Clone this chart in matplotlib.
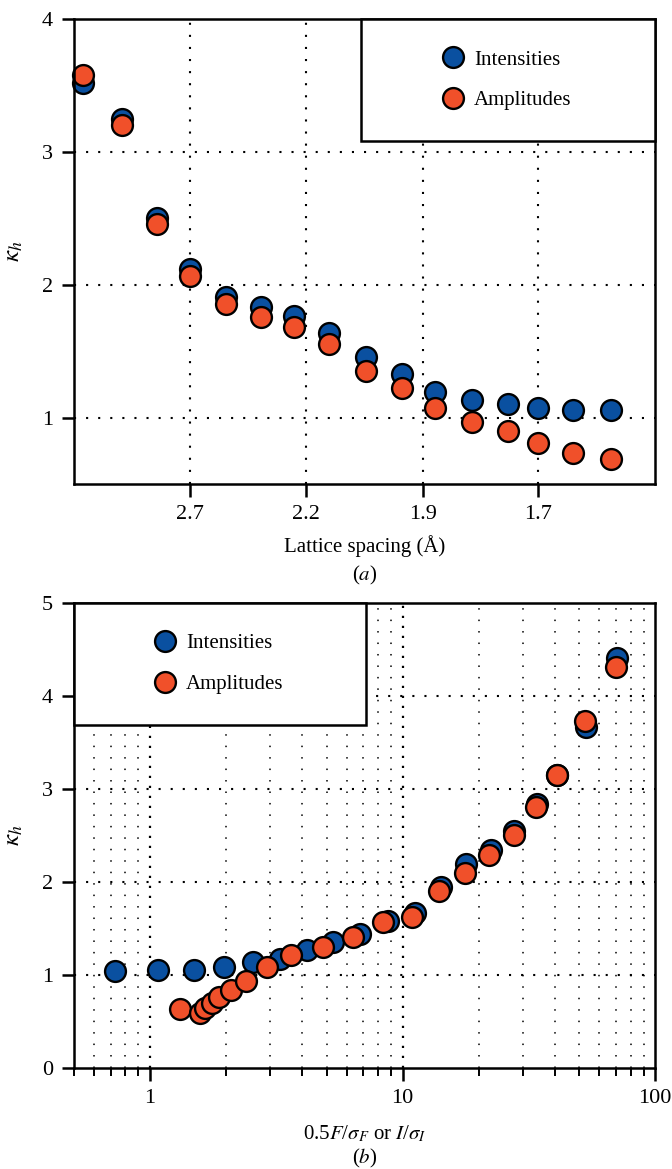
import numpy as np
import matplotlib
matplotlib.use('Agg')
import matplotlib.pyplot as plt
from matplotlib.patches import Rectangle
from matplotlib.lines import Line2D
from matplotlib.ticker import LogLocator, NullFormatter, FixedLocator

plt.rcParams['font.family'] = ['Liberation Serif', 'DejaVu Serif']
plt.rcParams['mathtext.fontset'] = 'stix'
plt.rcParams['font.size'] = 15

# (a) kappa_h vs lattice spacing (A)
spacing = [3.70, 3.22, 2.92, 2.70, 2.51, 2.36, 2.24, 2.13, 2.03, 1.945,
           1.876, 1.806, 1.746, 1.70, 1.651, 1.602]
kappa_int_a = [3.52, 3.25, 2.50, 2.12, 1.91, 1.83, 1.765, 1.64, 1.455, 1.33,
               1.19, 1.135, 1.105, 1.07, 1.06, 1.055]
kappa_amp_a = [3.58, 3.20, 2.455, 2.065, 1.855, 1.76, 1.68, 1.555, 1.35, 1.22,
               1.07, 0.965, 0.895, 0.805, 0.735, 0.69]
spacing_ticks = [2.7, 2.2, 1.9, 1.7]

# (b) kappa_h vs signal-to-noise
snr_int = [0.727, 1.076, 1.49, 1.96, 2.55, 3.28, 4.17, 5.29, 6.77, 8.73, 11.2,
           14.2, 17.9, 22.4, 27.7, 34.2, 41.0, 53.3, 70.8]
kappa_int_b = [1.045, 1.055, 1.055, 1.09, 1.14, 1.17, 1.27, 1.35, 1.44, 1.58,
               1.67, 1.95, 2.19, 2.34, 2.55, 2.84, 3.15, 3.67, 4.41]
snr_amp = [1.31, 1.576, 1.65, 1.76, 1.875, 2.09, 2.40, 2.9, 3.63, 4.83, 6.35,
           8.35, 10.85, 14.0, 17.6, 22.0, 27.5, 33.8, 41.0, 52.7, 70.2]
kappa_amp_b = [0.63, 0.59, 0.645, 0.70, 0.76, 0.84, 0.935, 1.09, 1.22, 1.30,
               1.41, 1.57, 1.62, 1.90, 2.10, 2.29, 2.50, 2.81, 3.15, 3.73, 4.31]

blue = '#0a50a0'
orange = '#f0502a'
mk = dict(marker='o', ms=15, mec='black', mew=1.7, ls='none')

fig = plt.figure(figsize=(6.72, 11.69), dpi=100)
ax1 = fig.add_axes([0.110, 0.586, 0.865, 0.3977])
ax2 = fig.add_axes([0.110, 0.0864, 0.865, 0.3978])

grid_kw = dict(color='black', lw=1.5, ls=(0, (1, 4.8)), zorder=1)


def style(ax):
    for s in ax.spines.values():
        s.set_linewidth(1.8)
        s.set_zorder(6)
    ax.tick_params(which='major', direction='out', length=9, width=1.8, pad=6,
                   labelsize=16)
    ax.tick_params(which='minor', direction='out', length=6, width=1.4)


def legend_box(ax, x0, y0, w, h):
    ax.add_patch(Rectangle((x0, y0), w, h, transform=ax.transAxes, fc='white',
                           ec='black', lw=1.8, zorder=7, clip_on=False))
    handles = [Line2D([], [], color=blue, **mk), Line2D([], [], color=orange, **mk)]
    leg = ax.legend(handles, ['Intensities', 'Amplitudes'], frameon=False,
                    loc='center', bbox_to_anchor=(x0, y0, w, h), fontsize=15,
                    handlelength=0.8, handletextpad=0.6, labelspacing=1.0,
                    borderaxespad=0)
    leg.set_zorder(8)


# ---- panel (a): x axis linear in 1/d^2, labelled in d
fwd = lambda d: 1.0 / np.asarray(d, float) ** 2
inv = lambda s: 1.0 / np.sqrt(np.asarray(s, float))
ax1.set_xscale('function', functions=(fwd, inv))
ax1.set_xlim(1.55, 3.85)
ax1.set_ylim(0.5, 4)
ax1.plot(spacing, kappa_int_a, color=blue, zorder=3, clip_on=False, **mk)
ax1.plot(spacing, kappa_amp_a, color=orange, zorder=4, clip_on=False, **mk)
ax1.xaxis.set_major_locator(FixedLocator(spacing_ticks))
ax1.set_xticklabels([str(t) for t in spacing_ticks])
ax1.xaxis.set_minor_locator(FixedLocator([]))
ax1.set_yticks([1, 2, 3, 4])
for t in spacing_ticks:
    ax1.axvline(t, **grid_kw)
for v in [1, 2, 3]:
    ax1.axhline(v, **grid_kw)
style(ax1)
ax1.set_xlabel('Lattice spacing (Å)', labelpad=8)
ax1.set_ylabel(r'$\kappa_h$', labelpad=12, fontsize=18)
legend_box(ax1, 0.494, 0.738, 0.506, 0.262)
fig.text(0.542, 1 - 575 / 1169, r'($a$)', ha='center', va='center', fontsize=15)

# ---- panel (b)
ax2.set_xscale('log')
ax2.set_xlim(0.5, 100)
ax2.set_ylim(0, 5)
ax2.plot(snr_int, kappa_int_b, color=blue, zorder=3, **mk)
ax2.plot(snr_amp, kappa_amp_b, color=orange, zorder=4, **mk)
ax2.set_xticks([1, 10, 100])
ax2.set_xticklabels(['1', '10', '100'])
ax2.xaxis.set_minor_locator(LogLocator(base=10, subs=np.arange(2, 10)))
ax2.xaxis.set_minor_formatter(NullFormatter())
ax2.set_yticks([0, 1, 2, 3, 4, 5])
for t in ax2.xaxis.get_minorticklocs():
    if 0.5 < t < 100:
        ax2.axvline(t, color='black', lw=1.1, ls=(0, (1, 6.5)), zorder=1)
for t in [1, 10]:
    ax2.axvline(t, color='black', lw=1.6, ls=(0, (1, 3.5)), zorder=1)
for v in [1, 2, 3, 4]:
    ax2.axhline(v, **grid_kw)
style(ax2)
ax2.set_xlabel(r'0.5$F$/$\sigma_F$ or $I$/$\sigma_I$', labelpad=11)
ax2.set_ylabel(r'$\kappa_h$', labelpad=12, fontsize=18)
legend_box(ax2, 0.0, 0.738, 0.503, 0.262)
fig.text(0.542, 1 - 1158 / 1169, r'($b$)', ha='center', va='center', fontsize=15)

fig.savefig('out.png', dpi=100)
